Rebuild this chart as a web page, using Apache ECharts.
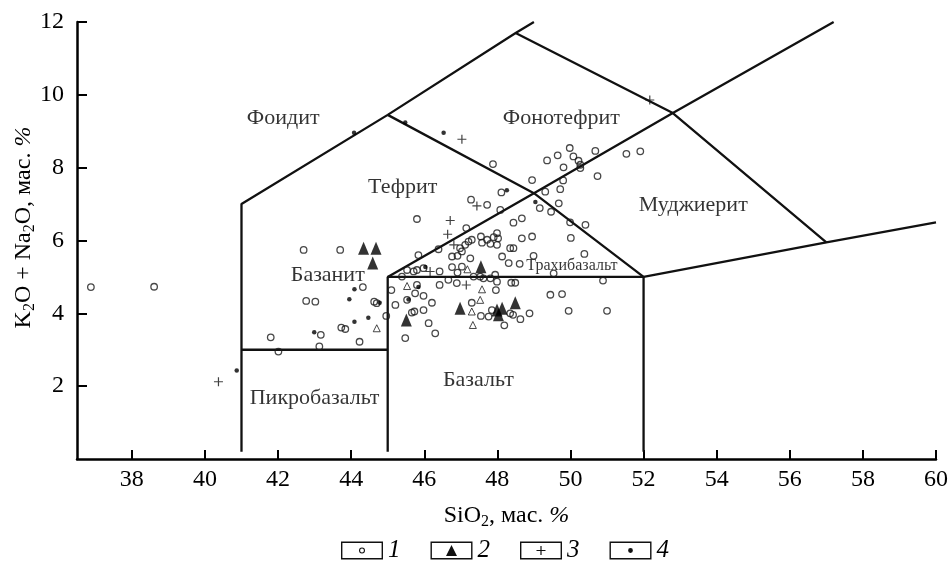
<!DOCTYPE html>
<html>
<head>
<meta charset="utf-8">
<script src="https://cdn.jsdelivr.net/npm/echarts@6.0.0/dist/echarts.min.js"></script>
<style>
  html, body { margin: 0; padding: 0; background: #fff; }
  #chart { width: 950px; height: 563px; }
</style>
</head>
<body>
<div id="chart"></div>
<script>
// tick values
const xTicks = [38, 40, 42, 44, 46, 48, 50, 52, 54, 56, 58, 60];
const yTicks = [2, 4, 6, 8, 10, 12];

// TAS field boundaries (SiO2, Na2O+K2O)
const lineFoidite = [[41, 0.2], [41, 7], [45, 9.45], [48.5, 11.7], [49, 12]];
const lineBasaltBox = [[45, 0.2], [45, 5], [52, 5], [52, 0.2]];
const linePicro = [[41, 3], [45, 3]];
const lineTrachyTop = [[45, 5], [49, 7.3], [52.8, 9.5], [57.2, 12]];
const lineTephrite = [[45, 9.45], [49, 7.3], [52, 5], [57, 5.95], [60, 6.5]];
const linePhono = [[48.5, 11.7], [52.8, 9.5], [57, 5.95]];

// field names
const fieldNames = ['Фоидит', 'Тефрит', 'Фонотефрит', 'Муджиерит', 'Базанит', 'Трахибазальт', 'Пикробазальт', 'Базальт'];
const fieldX = [42.14, 45.41, 49.75, 53.36, 43.36, 50.04, 43.0, 47.48];
const fieldY = [9.37, 7.45, 9.36, 6.98, 5.06, 5.31, 1.67, 2.17];
const fieldSize = [22, 22, 22, 22, 22, 16, 22, 22];

// 1 - open circles
const pts1 = [
  [36.88, 4.72], [38.61, 4.73], [41.80, 3.34], [42.01, 2.95], [42.70, 5.74], [43.70, 5.74],
  [42.77, 4.34], [43.02, 4.32], [43.13, 3.09], [43.17, 3.41], [43.73, 3.61], [43.84, 3.57],
  [44.23, 3.22], [44.32, 4.72], [44.63, 4.32], [44.70, 4.28], [44.96, 3.93], [45.10, 4.64],
  [45.21, 4.23], [45.48, 3.32], [45.53, 4.37], [45.66, 4.02], [45.73, 4.05], [45.75, 4.55],
  [45.98, 4.48], [46.21, 4.29], [45.98, 4.09], [46.12, 3.73], [46.30, 3.45], [45.39, 5.01],
  [45.53, 5.19], [45.71, 5.15], [45.80, 5.19], [45.98, 5.24], [46.42, 5.15], [45.80, 4.78],
  [46.42, 4.78], [45.84, 5.60], [46.39, 5.76], [45.80, 6.59], [46.66, 4.92], [46.76, 5.27],
  [46.91, 5.12], [47.03, 5.28], [46.89, 4.83], [46.76, 5.56], [46.91, 5.58], [47.03, 5.70],
  [47.26, 5.51], [46.98, 5.79], [47.12, 5.88], [47.21, 5.97], [47.30, 6.02], [47.15, 6.34],
  [47.28, 7.12], [47.72, 6.98], [48.08, 6.84], [47.88, 8.10], [48.11, 7.32], [47.55, 6.11],
  [47.58, 5.94], [47.72, 6.02], [47.81, 5.91], [47.90, 6.09], [47.99, 6.20], [48.02, 6.06],
  [47.99, 5.88], [48.13, 5.56], [48.31, 5.38], [48.35, 5.79], [48.44, 5.79], [48.61, 5.36],
  [48.67, 6.06], [48.44, 6.49], [48.67, 6.61], [48.95, 6.11], [48.99, 5.58], [48.95, 7.66],
  [49.16, 6.89], [49.47, 6.79], [49.31, 7.34], [49.68, 7.02], [49.72, 7.41], [49.80, 7.65],
  [49.81, 8.01], [49.36, 8.20], [49.65, 8.34], [49.98, 8.54], [50.08, 8.31], [50.22, 8.19],
  [50.27, 8.08], [50.27, 7.99], [50.68, 8.46], [51.53, 8.38], [51.91, 8.45], [50.74, 7.77],
  [49.99, 6.50], [50.41, 6.43], [50.01, 6.07], [50.38, 5.63], [49.54, 5.10], [50.89, 4.90],
  [49.45, 4.51], [49.77, 4.53], [49.95, 4.07], [51.00, 4.07], [48.88, 4.00], [48.63, 3.84],
  [48.43, 3.96], [48.19, 3.67], [48.35, 4.00], [47.76, 3.91], [47.55, 3.93], [47.85, 4.09],
  [47.30, 4.29], [47.35, 5.01], [47.53, 5.01], [47.62, 4.96], [47.81, 4.96], [47.94, 5.06],
  [47.99, 4.87], [47.96, 4.64], [48.38, 4.84], [48.49, 4.84]
];

// 2 - filled triangles
const pts2 = [
  [44.34, 5.79], [44.68, 5.79], [44.59, 5.38], [45.51, 3.82], [46.98, 4.14],
  [47.55, 5.28], [47.99, 4.09], [48.13, 4.14], [48.03, 3.96], [48.49, 4.29]
];

// 3 - crosses
const pts3 = [
  [40.37, 2.12], [52.17, 9.86], [47.03, 8.78], [47.44, 6.95], [46.71, 6.55],
  [46.64, 6.17], [46.81, 5.88], [46.16, 5.15], [47.15, 4.78]
];

// 4 - dots
const pts4 = [
  [40.87, 2.43], [44.08, 8.96], [45.48, 9.24], [46.53, 8.96], [48.26, 7.38], [49.04, 7.06],
  [44.09, 4.66], [43.95, 4.39], [44.78, 4.29], [44.47, 3.88], [44.09, 3.77], [42.99, 3.48],
  [46.03, 5.27], [45.84, 4.72], [45.57, 4.38]
];

// small open triangles (not in legend)
const ptsOpenTri = [
  [44.70, 3.59], [45.53, 4.75], [47.18, 5.21], [47.58, 4.66], [47.53, 4.37],
  [47.30, 4.05], [47.33, 3.68]
];

const ink = '#000';
const serif = 'Liberation Serif';

const boxPath = 'M0 0H42V18H0Z M1.4 1.4V16.6H40.6V1.4Z ';
const legendIcons = [
  boxPath + 'M18 9A3 3 0 1 1 24 9A3 3 0 1 1 18 9Z M19.1 9A1.9 1.9 0 1 0 22.9 9A1.9 1.9 0 1 0 19.1 9Z',
  boxPath + 'M15.5 14.5L21 3.5L26.5 14.5Z',
  boxPath + 'M16.5 8.4H25.5V9.6H16.5Z M20.4 4.5H21.6V13.5H20.4Z',
  boxPath + 'M18.6 9A2.4 2.4 0 1 1 23.4 9A2.4 2.4 0 1 1 18.6 9Z'
];

const boundarySeries = [lineFoidite, lineBasaltBox, linePicro, lineTrachyTop, lineTephrite, linePhono].map(d => ({
  type: 'line',
  data: d,
  symbol: 'none',
  silent: true,
  clip: false,
  lineStyle: { color: '#111', width: 2.3 },
  z: 1
}));

const nameRich = {
  s: { fontFamily: serif, fontSize: 16, color: ink, lineHeight: 14, verticalAlign: 'bottom' },
  i: { fontFamily: serif, fontSize: 24, color: ink, fontStyle: 'italic', lineHeight: 28 }
};

const chart = echarts.init(document.getElementById('chart'), null, { renderer: 'canvas' });

chart.setOption({
  animation: false,
  backgroundColor: '#fff',
  grid: { left: 77, right: 14, top: 22, bottom: 104, containLabel: false, outerBoundsMode: 'none' },
  legend: {
    left: 341,
    top: 538,
    padding: 0,
    itemWidth: 42,
    itemHeight: 18,
    itemGap: 30,
    selectedMode: false,
    itemStyle: { color: '#111', borderWidth: 0, opacity: 1 },
    textStyle: { fontFamily: serif, fontStyle: 'italic', fontSize: 25, color: ink },
    data: ['1', '2', '3', '4'].map((n, i) => ({ name: n, icon: 'path://' + legendIcons[i] }))
  },
  xAxis: {
    type: 'value',
    min: 36.5,
    max: 60,
    name: 'SiO{s|2}, мас. {i|%}',
    nameLocation: 'middle',
    nameGap: 43,
    nameMoveOverlap: false,
    nameTextStyle: { fontFamily: serif, fontSize: 24, color: ink, lineHeight: 28, rich: nameRich },
    axisLine: { show: true, onZero: false, lineStyle: { color: ink, width: 2.5 } },
    axisTick: { show: true, inside: true, length: 9, customValues: xTicks, lineStyle: { color: ink, width: 2 } },
    axisLabel: { customValues: xTicks, fontFamily: serif, fontSize: 24, color: ink, margin: 9 },
    splitLine: { show: false }
  },
  yAxis: {
    type: 'value',
    min: 0,
    max: 12,
    interval: 2,
    name: 'K{s|2}O + Na{s|2}O, мас. {i|%}',
    nameLocation: 'middle',
    nameGap: 39,
    nameMoveOverlap: false,
    nameTextStyle: { fontFamily: serif, fontSize: 24, color: ink, lineHeight: 28, padding: [0, 0, 0, 26], rich: nameRich },
    axisLine: { show: true, onZero: false, lineStyle: { color: ink, width: 2.5 } },
    axisTick: { show: true, inside: true, length: 10, customValues: yTicks, lineStyle: { color: ink, width: 2 } },
    axisLabel: { customValues: yTicks, fontFamily: serif, fontSize: 24, color: ink, margin: 13 },
    splitLine: { show: false }
  },
  series: boundarySeries.concat([
    {
      name: '1',
      type: 'scatter',
      data: pts1,
      symbol: 'circle',
      symbolSize: 6.5,
      itemStyle: { color: 'rgba(255,255,255,0)', borderColor: '#1a1a1a', borderWidth: 1.3 },
      z: 3
    },
    {
      name: '',
      type: 'scatter',
      data: ptsOpenTri,
      symbol: 'triangle',
      symbolSize: [7, 7],
      itemStyle: { color: 'rgba(255,255,255,0)', borderColor: '#1a1a1a', borderWidth: 1 },
      z: 3
    },
    {
      name: '2',
      type: 'scatter',
      data: pts2,
      symbol: 'triangle',
      symbolSize: [11, 13],
      itemStyle: { color: '#000' },
      z: 4
    },
    {
      name: '3',
      type: 'scatter',
      data: pts3,
      symbol: 'path://M0 4.4H9V5.6H0Z M3.9 0H5.1V10H3.9Z',
      symbolSize: 9,
      itemStyle: { color: '#111' },
      z: 4
    },
    {
      name: '4',
      type: 'scatter',
      data: pts4,
      symbol: 'circle',
      symbolSize: 4.5,
      itemStyle: { color: '#000' },
      z: 4
    },
    {
      type: 'scatter',
      silent: true,
      symbolSize: 0,
      data: fieldNames.map((n, i) => ({
        value: [fieldX[i], fieldY[i]],
        label: { fontSize: fieldSize[i] }
      })),
      label: {
        show: true,
        position: 'inside',
        fontFamily: serif,
        fontSize: 22,
        color: '#000',
        textBorderWidth: 0,
        textBorderColor: 'transparent',
        formatter: p => fieldNames[p.dataIndex]
      },
      z: 5
    }
  ])
});
</script>
</body>
</html>
